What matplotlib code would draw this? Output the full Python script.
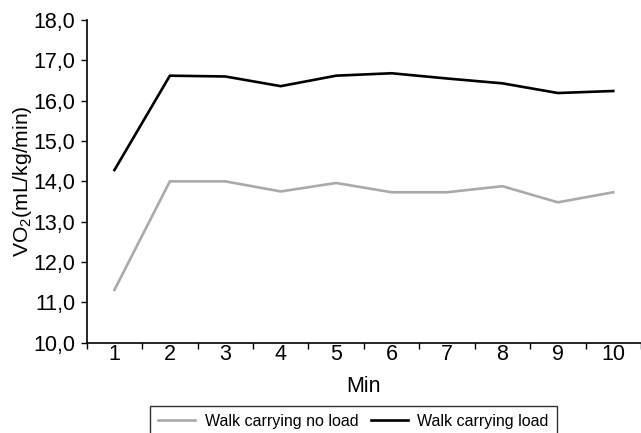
import matplotlib
matplotlib.use("Agg")
import matplotlib.pyplot as plt

minutes = [1, 2, 3, 4, 5, 6, 7, 8, 9, 10]
no_load = [11.31, 14.0, 14.0, 13.75, 13.96, 13.73, 13.73, 13.88, 13.48, 13.73]
with_load = [14.28, 16.62, 16.60, 16.36, 16.62, 16.68, 16.55, 16.43, 16.19, 16.24]
y_ticks = [10, 11, 12, 13, 14, 15, 16, 17, 18]
y_tick_labels = ["10,0", "11,0", "12,0", "13,0", "14,0", "15,0", "16,0", "17,0", "18,0"]

plt.rcParams["font.family"] = ["Liberation Sans", "DejaVu Sans"]
plt.rcParams["mathtext.default"] = "regular"

fig = plt.figure(figsize=(6.41, 4.33), dpi=100)
ax = fig.add_axes([0.1353, 0.2085, 0.8647, 0.7453])

ax.plot(minutes, no_load, color="#aaaaaa", lw=1.9, label="Walk carrying no load")
ax.plot(minutes, with_load, color="black", lw=1.9, label="Walk carrying load")

ax.set_xlim(0.5, 10.5)
ax.set_ylim(10, 18)
ax.set_yticks(y_ticks)
ax.set_yticklabels(y_tick_labels, fontsize=15.5)
ax.set_xticks(minutes)
ax.set_xticklabels([str(m) for m in minutes], fontsize=15.5)
ax.set_xticks([m + 0.5 for m in [0] + minutes], minor=True)
ax.tick_params(axis="x", which="major", length=0, pad=1)
ax.tick_params(axis="x", which="minor", length=4, width=1, direction="out")
ax.tick_params(axis="y", length=4, width=1, direction="out", pad=4)

for s in ["top", "right"]:
    ax.spines[s].set_visible(False)
for s in ["left", "bottom"]:
    ax.spines[s].set_linewidth(1.2)

ax.set_xlabel("Min", fontsize=15.5, labelpad=8)
ax.set_ylabel("VO$_2$(mL/kg/min)", fontsize=15.2, labelpad=0)

leg = fig.legend(loc="upper center", bbox_to_anchor=(0.5515, 0.0624), ncol=2,
                 fontsize=11.5, frameon=True, fancybox=False, borderpad=0.5,
                 borderaxespad=0, handlelength=2.3, handletextpad=0.6,
                 columnspacing=0.8)
leg.get_frame().set_edgecolor("black")
leg.get_frame().set_linewidth(1.0)

fig.savefig("out.png", dpi=100)
